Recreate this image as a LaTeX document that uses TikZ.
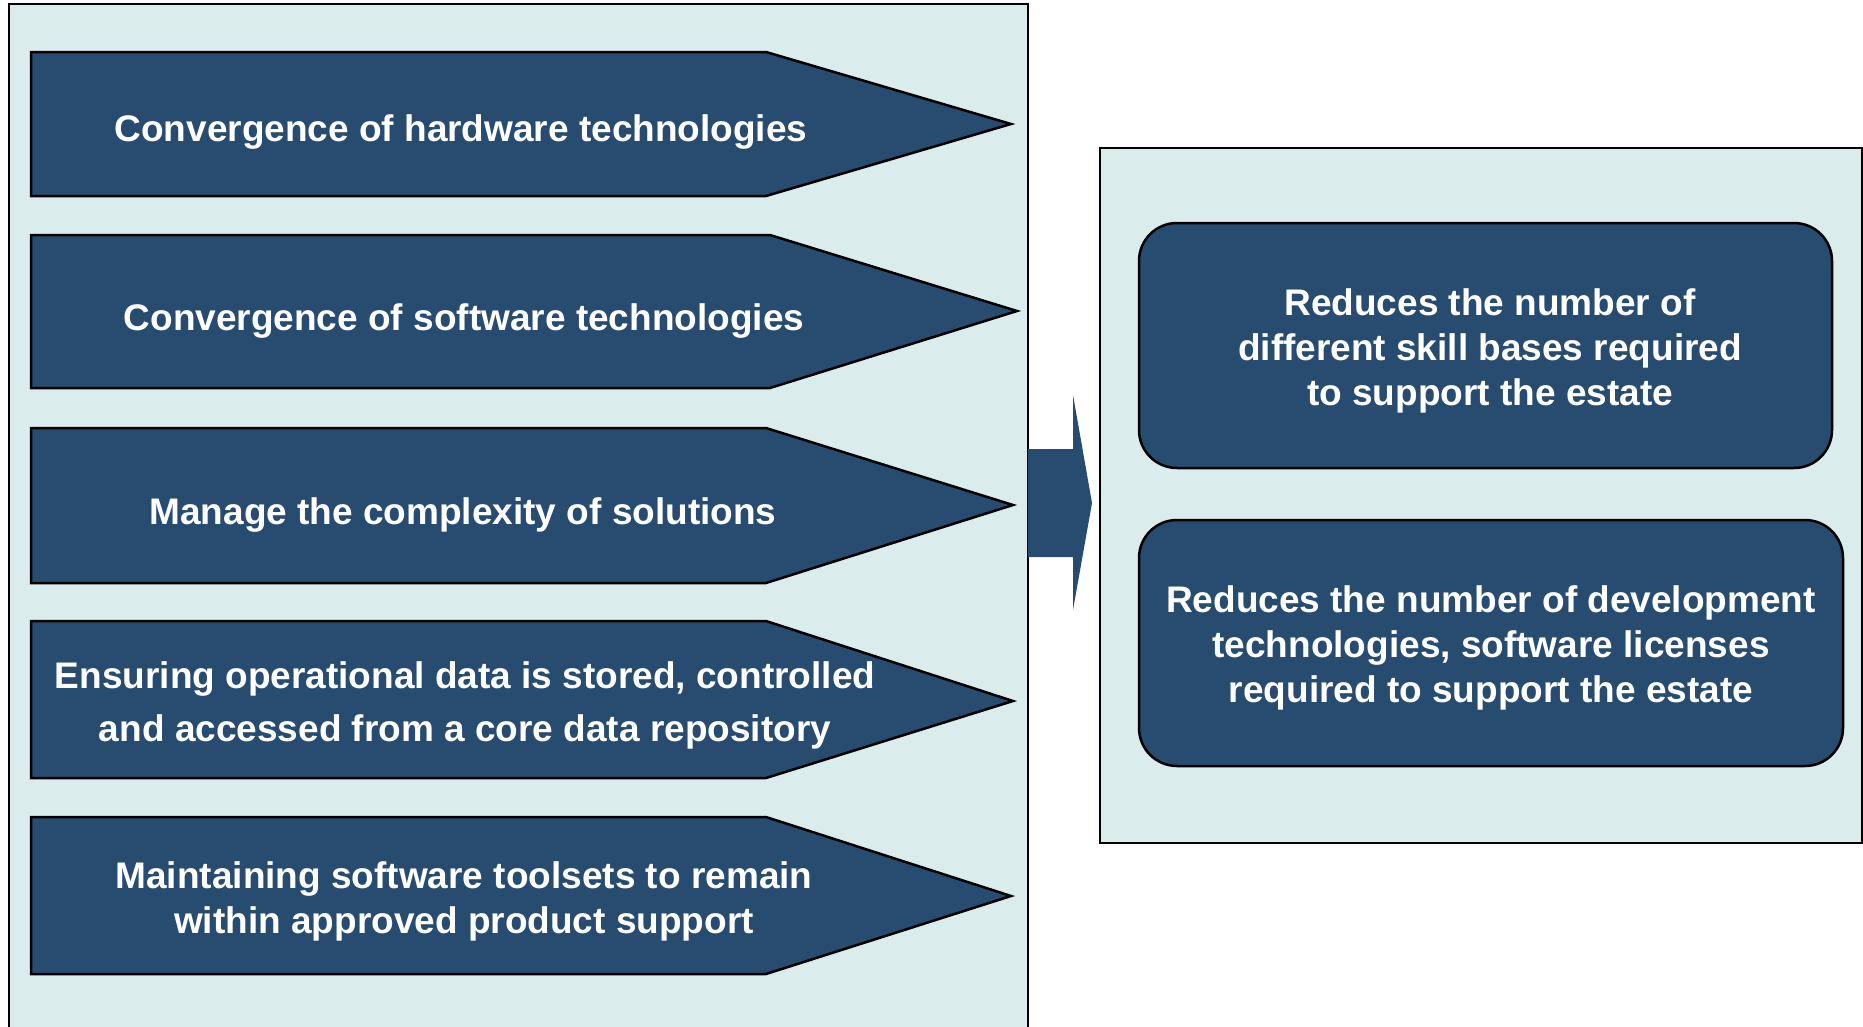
\documentclass[tikz,border=0pt]{standalone}
\usepackage{fontspec}
\setmainfont{Liberation Sans}
\definecolor{navy}{HTML}{274C70}
\definecolor{pale}{HTML}{DBECEC}
\begin{document}
\begin{tikzpicture}[x=1pt,y=-1pt,
  panel/.style={fill=pale,draw=black,line width=2pt},
  pent/.style={fill=navy,draw=black,line width=2.5pt,line join=miter},
  lbl/.style={text=white,font=\fontsize{37}{45}\selectfont\bfseries,align=center,inner sep=0pt},
  rbox/.style={fill=navy,draw=black,line width=2.5pt,rounded corners=38pt}]
\useasboundingbox (0,0) rectangle (1863,1026);
% panels
\path[panel] (9,4) rectangle (1028,1040);
\path[panel] (1100,148) rectangle (1862,843);
% pentagon arrows
\path[pent] (31,52) -- (766,52) -- (1011,124) -- (766,196) -- (31,196) -- cycle;
\path[pent] (31,235) -- (770,235) -- (1017,311) -- (770,388) -- (31,388) -- cycle;
\path[pent] (31,428) -- (766,428) -- (1013,505) -- (766,583) -- (31,583) -- cycle;
\path[pent] (31,621) -- (766,621) -- (1013,701) -- (766,778) -- (31,778) -- cycle;
\path[pent] (31,817) -- (766,817) -- (1011,896) -- (766,974) -- (31,974) -- cycle;
\node[lbl] (a1) at (461,132) {Convergence of hardware technologies};
\node[lbl] (a2) at (464,321) {Convergence of software technologies};
\node[lbl] (a3) at (463,515) {Manage the complexity of solutions};
\node[lbl,font=\fontsize{37}{53}\selectfont\bfseries] (a4) at (465,705.5) {Ensuring operational data is stored, controlled\\and accessed from a core data repository};
\node[lbl] (a5) at (464,901) {Maintaining software toolsets to remain\\within approved product support};
% middle block arrow
\fill[navy] (1028,449) -- (1073,449) -- (1073,395) -- (1092,503) -- (1073,610) -- (1073,557) -- (1028,557) -- cycle;
% right rounded boxes
\path[rbox] (1139,223) rectangle (1832,468);
\path[rbox] (1139,520) rectangle (1843,766);
\node[lbl] (r1) at (1490,351) {Reduces the number of\\different skill bases required\\to support the estate};
\node[lbl] (r2) at (1491,648) {Reduces the number of development\\technologies, software licenses\\required to support the estate};
\end{tikzpicture}
\end{document}
